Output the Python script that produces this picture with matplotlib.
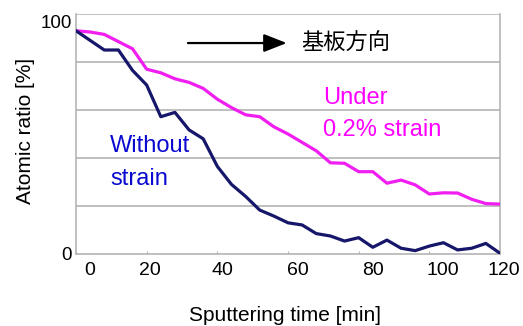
import matplotlib
matplotlib.use("Agg")
import matplotlib.pyplot as plt
import matplotlib.transforms as mtransforms

plt.rcParams['font.family'] = ['Liberation Sans', 'DejaVu Sans']

# Sputtering time [min] and atomic ratio [%] for both samples
time_min = [0, 4, 8, 12, 16, 20, 24, 28, 32, 36, 40, 44, 48, 52, 56, 60,
            64, 68, 72, 76, 80, 84, 88, 92, 96, 100, 104, 108, 112, 116, 120]
without_strain = [93, 89, 85, 85, 76.5, 70.4, 57.2, 59, 51.7, 48, 36.5, 29,
                  24, 18.3, 15.8, 13, 12.1, 8.5, 7.5, 5.4, 6.8, 2.8, 5.8, 2.4,
                  1.4, 3.3, 4.7, 1.7, 2.4, 4.4, 0.3]
under_strain = [93, 92.5, 91.5, 88.5, 85.5, 77, 75.5, 73, 71.5, 69, 64.5, 61,
                58, 57.2, 53, 50, 46.5, 43, 38, 37.8, 34.3, 34.3, 29.5, 30.8,
                28.8, 25, 25.5, 25.4, 22.8, 21, 20.8]

x_ticks = [0, 20, 40, 60, 80, 100, 120]
y_ticks = [0, 100]
y_grid = [20, 40, 60, 80, 100]

label_without = ["Without", "strain"]
label_under = ["Under", "0.2% strain"]
direction_label = "基板方向"

NAVY = "#16166a"
MAGENTA = "#f01ef0"
GRID = "#b4b4b4"

fig = plt.figure(figsize=(5.23, 3.26), dpi=100)
ax = fig.add_axes([76 / 523, 72 / 326, 424 / 523, 240 / 326])

ax.plot(time_min, under_strain, color=MAGENTA, lw=2.3, solid_joinstyle='round', zorder=3)
ax.plot(time_min, without_strain, color=NAVY, lw=2.3, solid_joinstyle='round', zorder=4)

ax.set_xlim(0, 120)
ax.set_ylim(0, 100)
for g in y_grid:
    ax.axhline(g, color=GRID, lw=1.2, zorder=1)

for side in ('left', 'bottom', 'right'):
    ax.spines[side].set_color(GRID)
    ax.spines[side].set_linewidth(1.2)
ax.spines['top'].set_visible(False)

ax.set_xticks(x_ticks)
ax.set_xticklabels([str(t) for t in x_ticks], fontsize=14)
ax.set_yticks(y_ticks)
ax.set_yticklabels([str(t) for t in y_ticks], fontsize=13.5)
ax.tick_params(axis='x', direction='in', length=2, color=GRID, pad=6)
ax.tick_params(axis='y', length=0, pad=3)

# Nudge tick labels horizontally / vertically (offsets in points)
x_shift = [10, 2, 4, 7, 10, 10, 2.5]
for lab, dx in zip(ax.get_xticklabels(), x_shift):
    lab.set_transform(lab.get_transform() +
                      mtransforms.ScaledTranslation(dx / 72, 0, fig.dpi_scale_trans))
y_shift = [0, -5.5]
for lab, dy in zip(ax.get_yticklabels(), y_shift):
    lab.set_transform(lab.get_transform() +
                      mtransforms.ScaledTranslation(0, dy / 72, fig.dpi_scale_trans))

fig.text(0.048, 0.598, "Atomic ratio [%]", rotation=90, fontsize=15,
         ha='center', va='center')
fig.text(0.545, 0.031, "Sputtering time [min]", fontsize=15,
         ha='center', va='center')

ax.text(0.080, 0.45, label_without[0], transform=ax.transAxes, color="#0a0ad0",
        fontsize=17, ha='left', va='center')
ax.text(0.080, 0.3125, label_without[1], transform=ax.transAxes, color="#0a0ad0",
        fontsize=17, ha='left', va='center')
ax.text(0.582, 0.65, label_under[0], transform=ax.transAxes, color="#ff00ff",
        fontsize=17, ha='left', va='center')
ax.text(0.582, 0.517, label_under[1], transform=ax.transAxes, color="#ff00ff",
        fontsize=17, ha='left', va='center')

ax.annotate("", xy=(0.497, 0.879), xytext=(0.264, 0.879), xycoords='axes fraction',
            arrowprops=dict(arrowstyle='-|>,head_length=1.4,head_width=0.55',
                            color='black', lw=1.6, shrinkA=0, shrinkB=0))
ax.text(0.532, 0.879, direction_label, transform=ax.transAxes,
        family=['Noto Sans CJK JP', 'DejaVu Sans'], fontsize=16,
        ha='left', va='center')

fig.savefig("out.png", dpi=100)
